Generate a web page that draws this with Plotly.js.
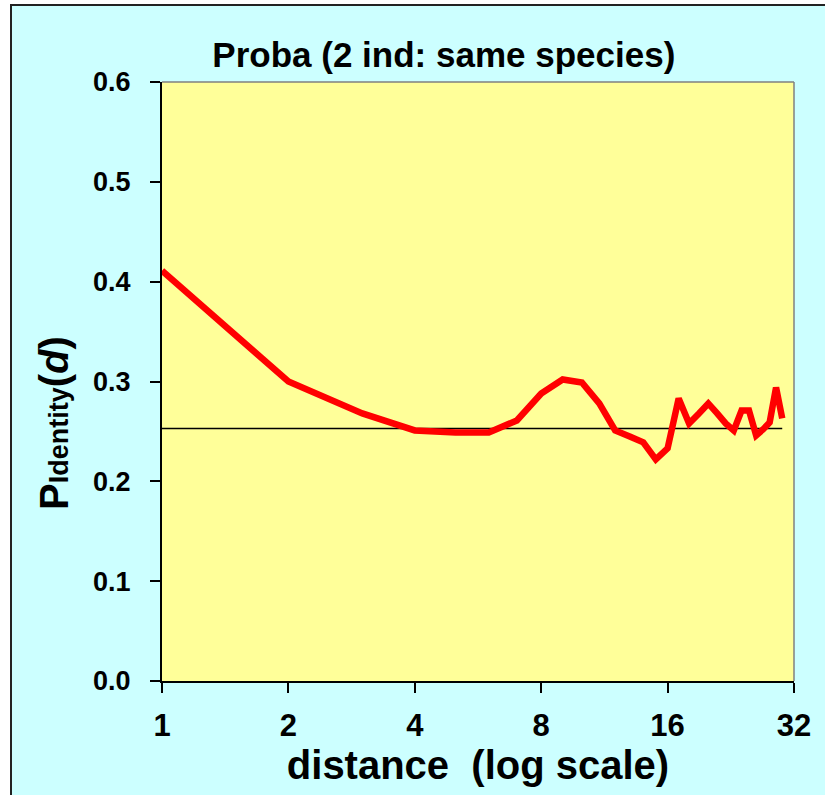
<!DOCTYPE html>
<html>
<head>
<meta charset="utf-8">
<script src="https://cdn.plot.ly/plotly-3.0.1.min.js"></script>
<style>
  html, body { margin: 0; padding: 0; background: #ffffff; width: 825px; height: 795px; overflow: hidden; }
  #frame { position: absolute; left: 10px; top: 4px; width: 815px; height: 791px;
           border-left: 2px solid #222; border-top: 2px solid #222; background: #CCFFFF; }
  #chart { position: absolute; left: 0; top: 0; width: 825px; height: 795px; }
</style>
</head>
<body>
<div id="frame"></div>
<div id="chart"></div>
<script>
// distance (log scale)
const distance = [1, 2, 3, 4, 5, 6, 7, 8, 9, 10, 11, 12, 13, 14, 15, 16, 17, 18, 19, 20,
                  21, 22, 23, 24, 25, 26, 27, 28, 29, 30];
// P identity(d)
const pIdentity = [0.411, 0.300, 0.268, 0.251, 0.249, 0.249, 0.261, 0.288, 0.302, 0.299,
                   0.278, 0.251, 0.245, 0.239, 0.222, 0.233, 0.283, 0.258, 0.268, 0.278,
                   0.268, 0.258, 0.251, 0.271, 0.271, 0.246, 0.252, 0.259, 0.294, 0.263];
// reference level (horizontal line)
const refLevel = 0.253;
const refX = [distance[0], distance[distance.length - 1]];
const refY = [refLevel, refLevel];

const xTickVals = [1, 2, 4, 8, 16, 32];
const xTickText = ['1', '2', '4', '8', '16', '32'];
const yTickVals = [0, 0.1, 0.2, 0.3, 0.4, 0.5, 0.6];
const yTickText = ['0.0', '0.1', '0.2', '0.3', '0.4', '0.5', '0.6'];

const FONT = 'Liberation Sans, Arial, sans-serif';

const traces = [
  { x: refX, y: refY, type: 'scatter', mode: 'lines',
    line: { color: '#000000', width: 1.5 }, hoverinfo: 'skip', showlegend: false },
  { x: distance, y: pIdentity, type: 'scatter', mode: 'lines',
    line: { color: '#FF0000', width: 6.5 }, showlegend: false }
];

const layout = {
  width: 825, height: 795,
  paper_bgcolor: 'rgba(0,0,0,0)',
  plot_bgcolor: '#FFFF99',
  margin: { l: 162, r: 31, t: 82, b: 114, pad: 0 },
  font: { family: FONT, color: '#000000' },
  title: {
    text: 'Proba (2 ind: same species)',
    font: { family: FONT, size: 35, weight: 'bold', color: '#000' },
    xref: 'container', yref: 'container',
    x: 0.538, xanchor: 'center',
    y: 1 - 55 / 795, yanchor: 'middle'
  },
  xaxis: {
    type: 'log',
    range: [0, Math.log10(32)],
    tickmode: 'array', tickvals: xTickVals, ticktext: xTickText,
    ticks: 'outside', ticklen: 10, tickwidth: 2, tickcolor: '#000',
    showline: true, linecolor: '#000', linewidth: 2,
    showgrid: false, zeroline: false,
    tickfont: { family: FONT, size: 31, weight: 'bold' },
    ticklabelstandoff: 6,
    title: { text: 'distance  (log scale)', font: { family: FONT, size: 40, weight: 'bold' }, standoff: 6 }
  },
  yaxis: {
    range: [0, 0.6],
    tickmode: 'array', tickvals: yTickVals, ticktext: yTickText,
    ticks: 'outside', ticklen: 10, tickwidth: 2, tickcolor: '#000',
    showline: true, linecolor: '#000', linewidth: 2,
    showgrid: false, zeroline: false,
    tickfont: { family: FONT, size: 27, weight: 'bold' },
    ticklabelstandoff: 14
  },
  shapes: [
    { type: 'line', xref: 'paper', yref: 'paper', x0: 0, x1: 1, y0: 1, y1: 1,
      line: { color: '#808080', width: 1.5 } },
    { type: 'line', xref: 'paper', yref: 'paper', x0: 1, x1: 1, y0: 0, y1: 1,
      line: { color: '#808080', width: 1.5 } }
  ],
  annotations: [
    { xref: 'paper', yref: 'paper', x: -0.17, y: 0.43, xanchor: 'center', yanchor: 'middle',
      textangle: -90, showarrow: false,
      text: '<b><span style="font-size:40px">P</span><span style="font-size:27px">Identity</span><span style="font-size:40px">(<i>d</i>)</span></b>',
      font: { family: FONT, color: '#000' } }
  ]
};

Plotly.newPlot('chart', traces, layout, { displayModeBar: false, staticPlot: true });
</script>
</body>
</html>
